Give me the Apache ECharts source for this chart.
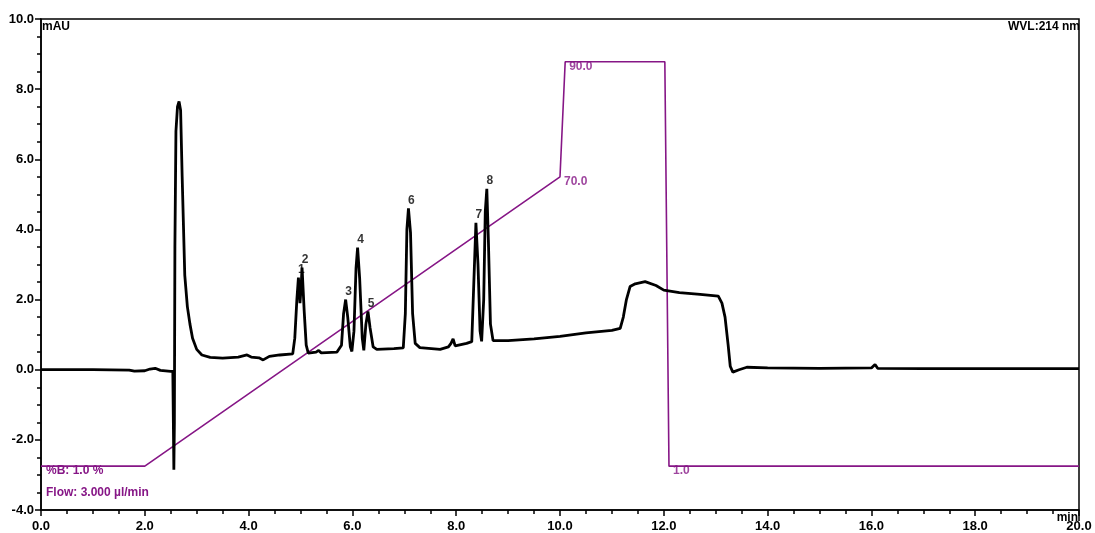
<!DOCTYPE html>
<html>
<head>
<meta charset="utf-8">
<script src="https://cdn.jsdelivr.net/npm/echarts@6/dist/echarts.min.js"></script>
<style>
  html, body { margin: 0; padding: 0; background: #fff; }
  #chart { width: 1095px; height: 533px; }
</style>
</head>
<body>
<div id="chart"></div>
<script>
// chromatogram trace, time (min) / signal (mAU)
var traceTime = [0, 1.0, 1.7, 1.8, 2.0, 2.1, 2.2, 2.3, 2.5, 2.54, 2.56, 2.57, 2.58, 2.6, 2.63, 2.66, 2.69, 2.72, 2.77, 2.82,
    2.87, 2.92, 3.0, 3.1, 3.26, 3.5, 3.8, 3.97, 4.05, 4.2, 4.28, 4.4, 4.6, 4.85, 4.89, 4.93, 4.96, 4.99, 5.01, 5.03,
    5.07, 5.11, 5.15, 5.3, 5.35, 5.4, 5.7, 5.79, 5.83, 5.87, 5.91, 5.96, 5.99, 6.03, 6.07, 6.10, 6.14, 6.19, 6.22, 6.26,
    6.30, 6.34, 6.4, 6.47, 6.8, 6.98, 7.02, 7.05, 7.08, 7.12, 7.16, 7.21, 7.3, 7.69, 7.85, 7.9, 7.94, 7.98, 8.2, 8.3,
    8.34, 8.38, 8.42, 8.46, 8.49, 8.53, 8.56, 8.59, 8.62, 8.66, 8.71, 9.0, 9.5, 10.0, 10.5, 11.0, 11.16, 11.22, 11.28, 11.35,
    11.45, 11.64, 11.85, 12.0, 12.3, 12.7, 13.05, 13.12, 13.18, 13.24, 13.28, 13.33, 13.45, 13.6, 14.0, 15.0, 16.0, 16.07, 16.12, 17.0,
    18.0, 19.0, 20.0];
var traceMAU = [0.0, 0.0, -0.01, -0.04, -0.03, 0.02, 0.04, -0.02, -0.05, -0.05, -2.85, -1.5, 3.5, 6.8, 7.5, 7.65, 7.4, 5.5, 2.7, 1.8,
    1.3, 0.9, 0.58, 0.42, 0.35, 0.33, 0.36, 0.42, 0.36, 0.34, 0.28, 0.38, 0.42, 0.45, 0.9, 2.0, 2.63, 1.9, 2.3, 2.91,
    1.7, 0.7, 0.47, 0.5, 0.55, 0.48, 0.5, 0.7, 1.6, 2.0, 1.5, 0.65, 0.52, 1.1, 2.9, 3.48, 2.6, 0.9, 0.55, 1.3,
    1.66, 1.2, 0.65, 0.58, 0.6, 0.62, 1.6, 4.0, 4.6, 3.9, 1.6, 0.75, 0.63, 0.58, 0.65, 0.75, 0.88, 0.68, 0.75, 0.8,
    2.5, 4.19, 3.0, 1.1, 0.81, 2.0, 4.5, 5.16, 3.7, 1.3, 0.83, 0.83, 0.88, 0.95, 1.05, 1.12, 1.18, 1.5, 2.0, 2.37,
    2.45, 2.51, 2.4, 2.27, 2.2, 2.15, 2.1, 1.9, 1.5, 0.7, 0.1, -0.07, 0.0, 0.07, 0.05, 0.04, 0.05, 0.15, 0.04, 0.03,
    0.03, 0.03, 0.03];

// numbered peaks
var peakNames = ['1', '2', '3', '4', '5', '6', '7', '8'];
var peakTime = [4.96, 5.03, 5.87, 6.10, 6.30, 7.08, 8.38, 8.59];
var peakMAU = [2.63, 2.91, 2.0, 3.48, 1.66, 4.6, 4.19, 5.16];

// gradient profile (%B), drawn against the signal axis
var gradTime = [0, 2.0, 10.0, 10.1, 12.02, 12.1, 20.0];
var gradLevel = [-2.75, -2.75, 5.5, 8.78, 8.78, -2.75, -2.75];
var gradPercentB = ['1.0', '1.0', '70.0', '90.0', '90.0', '1.0', '1.0'];
var gradLabelShown = [false, false, true, true, false, true, false];

var xTicks = { min: 0, max: 20, interval: 2 };
var yTicks = { min: -4, max: 10, interval: 2 };

var purple = '#861686';
var fontFam = '"Liberation Sans", Arial, sans-serif';

var traceData = [];
for (var i = 0; i < traceTime.length; i++) {
    traceData.push([traceTime[i], traceMAU[i]]);
}
var peakData = [];
for (var i = 0; i < peakNames.length; i++) {
    peakData.push({ name: peakNames[i], value: [peakTime[i], peakMAU[i]] });
}
var gradData = [];
var gradMarks = [];
for (var i = 0; i < gradTime.length; i++) {
    gradData.push([gradTime[i], gradLevel[i]]);
    if (gradLabelShown[i]) {
        gradMarks.push({ name: gradPercentB[i], value: [gradTime[i], gradLevel[i]] });
    }
}

var myChart = echarts.init(document.getElementById('chart'));
var option = {
    animation: false,
    backgroundColor: '#fff',
    grid: {
        left: 41, right: 16, top: 19, bottom: 22,
        show: true, borderColor: '#000', borderWidth: 1.5
    },
    xAxis: {
        type: 'value',
        min: xTicks.min, max: xTicks.max, interval: xTicks.interval,
        axisLine: { onZero: false, lineStyle: { color: '#000', width: 1.5 } },
        axisTick: { length: 6, lineStyle: { color: '#000', width: 1.5 } },
        minorTick: { show: true, splitNumber: 4, length: 4, lineStyle: { color: '#000', width: 1.5 } },
        splitLine: { show: false },
        axisLabel: {
            margin: 10, color: '#000', fontSize: 13, fontWeight: 'bold', fontFamily: fontFam,
            formatter: function(v) { return v.toFixed(1); }
        }
    },
    yAxis: {
        type: 'value',
        min: yTicks.min, max: yTicks.max, interval: yTicks.interval,
        axisLine: { show: true, onZero: false, lineStyle: { color: '#000', width: 1.5 } },
        axisTick: { show: true, length: 6, lineStyle: { color: '#000', width: 1.5 } },
        minorTick: { show: true, splitNumber: 4, length: 4, lineStyle: { color: '#000', width: 1.5 } },
        splitLine: { show: false },
        axisLabel: {
            margin: 7, color: '#000', fontSize: 13, fontWeight: 'bold', fontFamily: fontFam,
            formatter: function(v) { return v.toFixed(1); }
        }
    },
    series: [
        {
            type: 'line',
            data: gradData,
            showSymbol: false,
            symbol: 'none',
            lineStyle: { color: purple, width: 1.6 },
            z: 2
        },
        {
            type: 'scatter',
            data: gradMarks,
            symbolSize: 0,
            label: {
                show: true, position: 'right', distance: 4, offset: [0, 5],
                formatter: '{b}', color: purple, fontSize: 12, fontWeight: 'bold', fontFamily: fontFam
            },
            z: 2
        },
        {
            type: 'line',
            data: traceData,
            showSymbol: false,
            symbol: 'none',
            lineStyle: { color: '#000', width: 2.8 },
            z: 3
        },
        {
            type: 'scatter',
            data: peakData,
            symbolSize: 0,
            label: {
                show: true, position: 'top', distance: 2, offset: [3, 0],
                formatter: '{b}', color: '#000', fontSize: 12, fontWeight: 'bold', fontFamily: fontFam
            },
            z: 4
        }
    ],
    graphic: [
        { type: 'text', left: 42, top: 21, style: { text: 'mAU', fill: '#000', font: 'bold 12px ' + fontFam } },
        { type: 'text', right: 15, top: 21, style: { text: 'WVL:214 nm', fill: '#000', font: 'bold 12px ' + fontFam } },
        { type: 'text', left: 46, top: 465, style: { text: '%B: 1.0 %', fill: purple, font: 'bold 12px ' + fontFam } },
        { type: 'text', left: 46, top: 487, style: { text: 'Flow: 3.000 µl/min', fill: purple, font: 'bold 12px ' + fontFam } },
        { type: 'text', right: 17, top: 512, style: { text: 'min', fill: '#000', font: 'bold 12px ' + fontFam } },
        { type: 'line', shape: { x1: 1079, y1: 511, x2: 1079, y2: 521 }, style: { stroke: '#000', lineWidth: 1.5 } }
    ]
};
myChart.setOption(option);
</script>
</body>
</html>
